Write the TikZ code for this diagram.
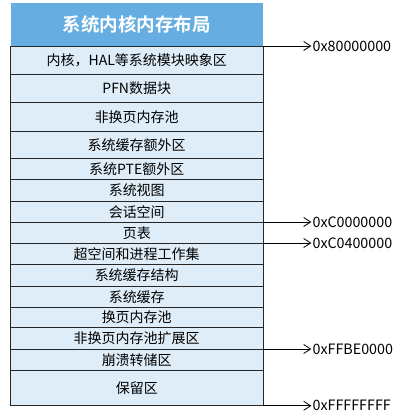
\documentclass[tikz,border=0pt]{standalone}
\usepackage{fontspec}
\setmainfont{Noto Sans CJK SC}[BoldFont={Noto Sans CJK SC Bold}]
\usetikzlibrary{positioning,arrows.meta}
\begin{document}
\begin{tikzpicture}[x=1pt,y=-1pt]
        %colores
        \definecolor{cab}{HTML}{66AEE2}
        \definecolor{celda}{HTML}{DEEDF8}
        \tikzset{
            fila/.style={draw=black!85,line width=0.8pt,fill=celda,minimum width=252.5pt,inner sep=0pt,font=\fontsize{14}{16}\selectfont},
            cabecera/.style={fill=cab,minimum width=252.5pt,minimum height=43pt,inner sep=0pt,text=white,font=\fontsize{18.5}{20}\selectfont\bfseries},
            etiqueta/.style={inner sep=1pt,anchor=west,font=\fontsize{14.3}{16}\selectfont},
            flecha/.style={-{Straight Barb[length=7pt,width=9pt]},line width=0.8pt}
        }
        \useasboundingbox (0,0) rectangle (403,416);

        % Cabecera
        \node[cabecera,anchor=north] (h) at (136.75,3) {系统内核内存布局};

        % Filas
        \foreach \ya/\yb/\txt [count=\i] in {46/74/{内核，HAL等系统模块映象区},74/102/{PFN数据块},102/131/{非换页内存池},
            131/158/{系统缓存额外区},158/179/{系统PTE额外区},179/201/{系统视图},201/222/{会话空间},222/243/{页表},
            243/264/{超空间和进程工作集},264/286/{系统缓存结构},286/307/{系统缓存},307/327/{换页内存池},
            327/349/{非换页内存池扩展区},349/370/{崩溃转储区},370/405/{保留区}}
            \node[fila,anchor=north,minimum height={(\yb-\ya)*1pt}] (r\i) at (136.75,\ya) {\txt};

        % Direcciones
        \node[etiqueta,right=48pt of r1.north east] (d1) {0x80000000};
        \node[etiqueta,right=48pt of r8.north east] (d2) {0xC0000000};
        \node[etiqueta,right=48pt of r9.north east] (d3) {0xC0400000};
        \node[etiqueta,right=48pt of r14.north east] (d4) {0xFFBE0000};
        \node[etiqueta,right=48pt of r15.south east] (d5) {0xFFFFFFFF};
        \draw[flecha] (r1.north east) -- (d1);
        \draw[flecha] (r8.north east) -- (d2);
        \draw[flecha] (r9.north east) -- (d3);
        \draw[flecha] (r14.north east) -- (d4);
        \draw[flecha] (r15.south east) -- (d5);
    \end{tikzpicture}
\end{document}
